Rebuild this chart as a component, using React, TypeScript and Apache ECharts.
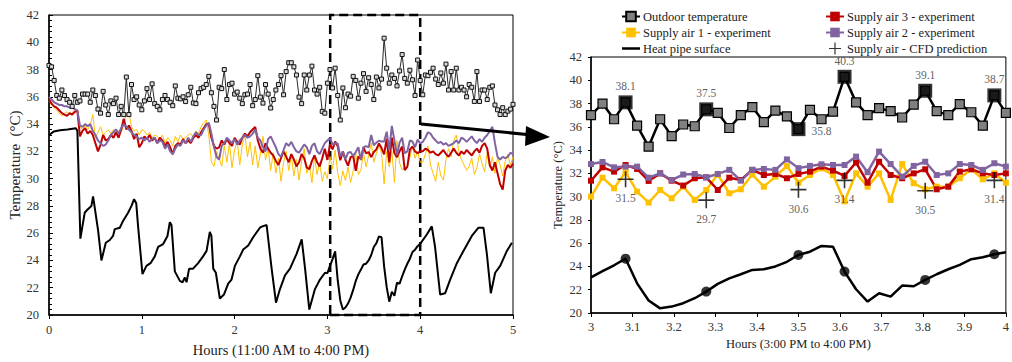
import React, { useEffect, useRef } from "react";
import * as echarts from "echarts";

const STEP = 1 / 36; // 100-second samples, in hours
const FONT = "'Liberation Serif', 'Times New Roman', serif";

// ---------- Outdoor temperature ----------
const outdoorEarly = [
  38.3, 38.2, 37.2, 36.1, 35.9, 36.5, 36.1, 35.8, 35.6, 35.3, 36.1, 35.6, 35.7, 36.2, 36.2, 36.2, 35.6, 36.5, 36.1, 35.1,
  34.8, 36.4, 35.4, 34.7, 35.7, 35.5, 35.9, 34.7, 35.3, 34.7, 37.45, 34.7, 36.9, 35.8, 36.0, 35.4, 35.05, 35.7, 36.6, 35.8,
  36.95, 35.5, 35.3, 35.05, 35.8, 36.1, 35.8, 35.6, 35.35, 36.8, 35.9, 35.85, 36.0, 35.65, 36.15, 36.7, 35.55, 35.5, 36.3, 36.6,
  36.7, 36.9, 37.5, 36.3, 35.3, 34.3, 36.7, 36.6, 38.0, 35.8, 36.9, 37.0, 36.2, 36.35, 35.9, 35.5, 36.15, 36.2, 36.9, 35.35,
  35.8, 37.55, 35.98, 35.54, 36.9, 36.2, 35.18, 35.8, 36.5, 36.9, 37.55, 36.15, 37.85, 38.5, 38.5, 38.2, 37.6, 35.98, 35.5, 37.6,
  36.5, 37.6, 38.25, 36.5, 36.2, 36.7, 34.93, 34.8,
];
const outdoorZoom = [
  37.0, 38.0, 36.65, 38.1, 36.1, 34.3, 36.65, 35.2, 36.2, 36.05, 37.5, 37.2, 35.9, 37.0, 37.7, 36.4, 37.4, 36.9, 35.8, 37.45,
  36.65, 37.3, 40.3, 38.1, 37.0, 37.6, 37.35, 36.8, 37.9, 39.1, 37.35, 37.0, 37.95, 37.25, 36.1, 38.7, 37.2,
];
const outdoorLate = [
  36.15, 37.6, 37.55, 37.8, 38.1, 37.3, 36.9, 37.75, 37.0, 38.4, 36.5, 37.85, 36.5, 38.1, 36.5, 36.7, 36.5, 36.0, 36.9, 36.7,
  35.66, 37.85, 35.66, 36.5, 36.5, 35.8, 36.7, 36.8, 35.4, 35.05, 34.7, 35.2, 34.7, 34.95, 35.1, 35.45,
];

// ---------- Supply air 1 (yellow) ----------
const sa1Early = [
  35.7, 35.4, 35.2, 35.0, 34.8, 34.6, 34.8, 34.9, 34.7, 34.8, 35.1, 35.0,
  33.8, 33.6, 33.9, 33.6, 33.9, 34.7, 33.0, 33.4, 33.8, 33.2, 33.4, 33.6, 33.3, 33.6, 33.2, 33.5, 33.4, 33.9, 34.7, 34.8, 33.8, 33.5, 33.6, 33.2,
  33.6, 33.5, 33.2, 33.4, 33.0, 33.2, 33.1, 32.9, 33.2, 32.6, 33.0, 32.8, 32.4, 33.1, 32.7, 33.2, 32.9, 33.0, 33.2, 33.3, 33.0, 33.5, 33.3,
  33.8, 34.1, 34.3, 33.2, 31.2, 30.9, 32.0, 31.5, 30.9, 32.4, 31.2, 32.6, 30.8, 32.1, 32.8, 31.0, 32.5, 33.2, 31.6, 32.7, 31.0, 32.4, 30.8,
  31.8, 33.1, 31.4, 32.2, 30.6, 31.9, 30.4, 31.5, 29.8, 31.2, 32.0, 30.6, 31.7, 30.2, 31.4, 29.9, 31.3, 32.2, 30.4, 31.0, 29.7, 31.6, 30.3,
  31.2, 29.8, 30.5,
];
const sa1Zoom = [
  30.0, 31.63, 30.72, 32.1, 30.43, 29.49, 30.57, 29.86, 30.86, 29.72, 30.57, 31.9, 30.29, 30.63, 31.9, 30.86, 31.72, 32.63, 31.2, 31.86,
  32.43, 31.86, 29.6, 32.0, 30.86, 32.0, 29.72, 32.8, 31.15, 30.63, 30.86, 30.86, 31.58, 32.35, 31.49, 32.0, 31.2,
];
const sa1Late = [
  31.2, 31.8, 32.4, 31.0, 30.4, 29.8, 31.2, 30.2, 29.9, 31.4, 32.2, 31.6, 32.8, 33.2, 32.0, 31.4, 31.0, 30.6, 30.9, 31.5,
  30.3, 30.8, 31.8, 31.1, 30.5, 31.9, 30.8, 31.6, 30.4, 31.5, 31.0, 30.2, 31.3, 31.8, 31.0, 31.6,
];

// ---------- Supply air 3 (red) ----------
const sa3Early = [
  35.8, 35.5, 35.3, 35.2, 35.0, 34.8, 34.7, 34.6, 34.8, 34.7, 34.9, 35.0,
  33.1, 33.5, 33.7, 33.3, 33.5, 33.2, 32.6, 32.0, 32.5, 33.2, 32.8, 32.9, 33.2, 33.0, 33.4, 33.0, 33.6, 34.4, 33.6, 33.9, 33.5, 32.9, 33.3, 32.3,
  32.6, 33.1, 32.9, 33.2, 32.8, 33.0, 32.6, 33.0, 32.8, 32.4, 32.7, 32.3, 31.8, 32.4, 32.6, 32.5, 32.9, 32.6, 32.8, 32.6, 33.0, 33.2, 33.0,
  33.4, 33.7, 34.0, 34.0, 33.0, 32.4, 32.2, 32.3, 32.8, 32.5, 32.9, 32.6, 32.4, 33.0, 32.7, 32.5, 33.0, 33.3, 33.1, 33.4, 33.6, 33.8, 32.8,
  32.2, 31.9, 32.6, 32.2, 31.9, 31.7, 31.3, 31.0, 31.5, 32.0, 31.6, 31.2, 31.8, 31.4, 30.9, 31.2, 31.8, 31.5, 30.8, 30.7, 31.3, 31.7, 31.2,
  30.9, 31.5, 32.2,
];
const sa3Zoom = [
  31.37, 32.52, 32.15, 32.72, 32.38, 31.35, 32.0, 31.37, 30.95, 31.58, 31.66, 30.57, 31.63, 31.43, 32.3, 31.86, 31.95, 31.58, 31.95, 32.15,
  32.58, 32.24, 31.78, 32.93, 31.2, 33.0, 31.86, 31.58, 32.0, 32.35, 30.63, 30.86, 32.15, 32.35, 32.0, 31.86, 32.0,
];
const sa3Late = [
  32.0, 32.2, 32.1, 31.9, 32.0, 31.8, 31.7, 31.9, 32.1, 31.8, 31.6, 31.9, 32.2, 31.9, 31.7, 32.0, 31.8, 32.1, 31.9, 31.7,
  32.0, 32.2, 31.9, 32.4, 32.6, 32.2, 31.0, 30.6, 31.2, 30.4, 29.6, 29.2, 30.6, 31.0, 30.8, 31.1,
];

// ---------- Supply air 2 (purple) ----------
const sa2Early = [
  36.0, 35.8, 35.6, 35.5, 35.4, 35.4, 35.3, 35.3, 35.2, 35.2, 35.1, 35.0,
  33.9, 33.8, 34.0, 33.85, 34.0, 33.5, 33.2, 32.8, 32.6, 32.4, 32.5, 32.8, 33.2, 33.4, 33.6, 33.3, 33.7, 34.0, 33.8, 33.6, 33.4, 33.2, 33.1, 32.9,
  33.0, 32.8, 33.0, 32.7, 32.9, 33.0, 32.6, 32.8, 32.7, 32.2, 32.5, 32.0, 31.8, 32.2, 32.5, 32.4, 32.8, 32.6, 33.0, 32.7, 33.1, 33.4, 33.2,
  33.2, 33.6, 33.9, 34.1, 33.3, 32.3, 31.6, 31.4, 32.4, 32.6, 33.0, 32.8, 32.6, 32.9, 32.5, 32.8, 33.0, 33.2, 33.0, 33.1, 33.3, 33.6, 33.0,
  32.8, 32.3, 32.0, 32.9, 33.1, 32.7, 32.3, 31.8, 31.6, 32.1, 32.6, 32.4, 32.7, 32.3, 32.0, 31.9, 32.2, 32.5, 32.3, 31.8, 32.4, 32.6, 32.0,
  31.8, 32.2, 32.6,
];
const sa2Zoom = [
  32.8, 32.98, 32.52, 32.58, 32.58, 31.63, 32.0, 31.43, 31.9, 31.95, 31.66, 31.95, 32.3, 31.37, 32.3, 32.38, 32.3, 33.2, 32.45, 32.64,
  32.78, 32.72, 32.72, 33.44, 32.1, 33.87, 32.8, 31.72, 32.64, 33.0, 31.86, 32.0, 32.8, 32.72, 32.3, 32.87, 32.58,
];
const sa2Late = [
  32.7, 33.0, 33.4, 33.3, 33.0, 32.8, 32.6, 32.7, 32.5, 32.6, 32.4, 32.5, 32.6, 32.8, 32.6, 33.0, 32.9, 32.7, 32.9, 33.1,
  32.8, 32.6, 32.9, 32.7, 33.0, 33.2, 33.5, 33.8, 32.6, 31.6, 31.4, 31.6, 31.5, 31.6, 31.9, 31.8,
];

// ---------- Heat pipe surface ----------
const hpEarlyTimes = [
  0, 0.05, 0.12, 0.2, 0.29, 0.306, 0.338, 0.36, 0.385, 0.41, 0.457, 0.475, 0.529, 0.565, 0.612, 0.655, 0.69, 0.709, 0.763, 0.798,
  0.852, 0.889, 0.917, 0.94, 0.96, 1.007, 1.05, 1.094, 1.14, 1.176, 1.23, 1.277, 1.302, 1.32, 1.356, 1.41, 1.439, 1.464, 1.482, 1.51,
  1.553, 1.607, 1.66, 1.698, 1.733, 1.75, 1.77, 1.798, 1.841, 1.885, 1.931, 1.967, 2.003, 2.057, 2.093, 2.147, 2.2, 2.273, 2.3, 2.345,
  2.399, 2.446, 2.489, 2.543, 2.597, 2.669, 2.723, 2.758, 2.805, 2.866, 2.92, 2.974,
];
const hpEarlyValues = [
  33.2, 33.45, 33.55, 33.6, 33.7, 33.5, 25.6, 26.5, 27.5, 27.7, 28.0, 28.7, 26.2, 24.0, 25.3, 25.5, 25.8, 26.3, 26.4, 26.9,
  27.5, 28.0, 28.5, 28.2, 26.5, 23.0, 23.6, 23.8, 24.3, 25.0, 25.2, 25.8, 26.8, 26.6, 23.2, 22.5, 22.4, 22.75, 22.4, 23.4,
  23.4, 23.8, 24.3, 24.7, 26.1, 25.8, 23.4, 23.1, 21.2, 21.5, 22.3, 22.6, 23.6, 24.3, 24.8, 25.1, 25.7, 26.4, 26.5, 26.6,
  23.4, 20.9, 21.9, 22.9, 23.4, 24.5, 25.55, 23.5, 20.4, 21.9, 22.6, 23.1,
];
const heatPipeZoom = [
  23.07, 23.6, 24.1, 24.67, 22.55, 21.07, 20.4, 20.55, 20.84, 21.27, 21.84, 22.5, 22.98, 23.33, 23.7, 23.76, 24.0, 24.4, 24.99, 25.27,
  25.76, 25.7, 23.56, 22.04, 20.98, 21.7, 21.41, 22.36, 22.3, 22.84, 23.33, 23.76, 24.13, 24.62, 24.79, 25.05, 25.22,
];
const hpLateTimes = [4.071, 4.125, 4.16, 4.215, 4.269, 4.323, 4.395, 4.466, 4.556, 4.628, 4.682, 4.718, 4.761, 4.808, 4.862, 4.934, 4.988];
const hpLateValues = [25.9, 26.5, 25.0, 21.5, 21.6, 22.6, 23.8, 24.7, 25.8, 26.4, 26.4, 24.5, 21.6, 23.1, 23.6, 24.7, 25.3];

// ---------- CFD predictions (sample indices within 3-4 h) ----------
const cfdIndex = [3, 10, 18, 22, 29, 35];
const cfdValues = [31.5, 29.7, 30.6, 31.4, 30.5, 31.4];

const leftTicks = [0, 1, 2, 3, 4, 5];

const toPairs = (vals: number[], start: number) =>
  vals.map((v, i) => [Number((start + i * STEP).toFixed(5)), v]);
const zip = (ts: number[], vs: number[]) => ts.map((t, i) => [t, vs[i]]);

const COL = {
  sa1: "#FFC000",
  sa3: "#C00000",
  sa2: "#8064A2",
};

export default function App() {
  const ref = useRef<HTMLDivElement>(null);

  useEffect(() => {
    if (!ref.current) return;
    const chart = echarts.init(ref.current, undefined, { renderer: "svg" });

    const outdoorAll = toPairs([...outdoorEarly, ...outdoorZoom, ...outdoorLate], 0);
    const sa1All = toPairs([...sa1Early, ...sa1Zoom, ...sa1Late], 0);
    const sa2All = toPairs([...sa2Early, ...sa2Zoom, ...sa2Late], 0);
    const sa3All = toPairs([...sa3Early, ...sa3Zoom, ...sa3Late], 0);
    const hpAll = [...zip(hpEarlyTimes, hpEarlyValues), ...toPairs(heatPipeZoom, 3), ...zip(hpLateTimes, hpLateValues)];

    const tAt = (i: number) => Number((3 + i * STEP).toFixed(5));
    const outdoorHigh = cfdIndex.map((i) => ({
      value: [tAt(i), outdoorZoom[i]],
      label: i === 18 ? { position: "right", distance: 6, offset: [0, 2] } : undefined,
    }));
    const hpHigh = cfdIndex.map((i) => [tAt(i), heatPipeZoom[i]]);
    const cfd = cfdIndex.map((i, k) => [tAt(i), cfdValues[k]]);

    const axisText = { fontFamily: FONT, fontSize: 12.5, color: "#333", fontWeight: "normal" };
    const axisLine = { show: true, onZero: false, lineStyle: { color: "#000", width: 1.5 } };
    const nameText = (size: number) => ({ fontFamily: FONT, fontSize: size, color: "#222", fontWeight: "normal" });

    const legendBase = {
      orient: "vertical",
      top: 5,
      itemWidth: 18,
      itemHeight: 12,
      itemGap: 3,
      textStyle: { fontFamily: FONT, fontSize: 12.5, color: "#222", fontWeight: "normal", padding: [0, 0, 0, -2] },
      selectedMode: false,
    };

    const option: any = {
      animation: false,
      textStyle: { fontFamily: FONT, fontWeight: "normal" },
      legend: [
        {
          ...legendBase, left: 616,
          data: [
            "Outdoor temperature",
            "Supply air 1 - experiment",
            { name: "Heat pipe surface", icon: "path://M0,0L18,0L18,2.5L0,2.5Z" },
          ],
        },
        { ...legendBase, left: 820, data: ["Supply air 3 - experiment", "Supply air 2 - experiment", "Supply air - CFD prediction"] },
      ],
      grid: [
        { left: 49, top: 15, width: 464, height: 301, show: true, borderColor: "#000", borderWidth: 1 },
        { left: 591, top: 57, width: 420, height: 256, show: true, borderColor: "#000", borderWidth: 1 },
      ],
      xAxis: [
        {
          type: "value", gridIndex: 0, min: leftTicks[0], max: leftTicks[leftTicks.length - 1], interval: 1,
          axisLine, axisTick: { show: true, length: 4, lineStyle: { color: "#000" } },
          axisLabel: { ...axisText, margin: 8 }, splitLine: { show: false },
          name: "Hours (11:00 AM to 4:00 PM)", nameLocation: "middle", nameGap: 27,
          nameTextStyle: nameText(14.5),
        },
        {
          type: "value", gridIndex: 1, min: 3, max: 4, interval: 0.1,
          axisLine, axisTick: { show: true, length: 4, lineStyle: { color: "#000" } },
          axisLabel: { ...axisText, margin: 7, formatter: (v: number) => String(Number(v.toFixed(1))) },
          splitLine: { show: false },
          name: "Hours (3:00 PM to 4:00 PM)", nameLocation: "middle", nameGap: 20,
          nameTextStyle: nameText(12.5),
        },
      ],
      yAxis: [
        {
          type: "value", gridIndex: 0, min: 20, max: 42, interval: 2,
          axisLine, axisTick: { show: true, inside: true, length: 4, lineStyle: { color: "#000" } },
          minorTick: { show: true, splitNumber: 5, length: 3, lineStyle: { color: "#000" } },
          axisLabel: { ...axisText, margin: 10 }, splitLine: { show: false },
          name: "Temperature  (°C)", nameLocation: "middle", nameGap: 25,
          nameTextStyle: nameText(15),
        },
        {
          type: "value", gridIndex: 1, min: 20, max: 42, interval: 2,
          axisLine, axisTick: { show: true, length: 3, lineStyle: { color: "#000" } },
          axisLabel: { ...axisText, margin: 9 }, splitLine: { show: false },
          name: "Temperature (°C)", nameLocation: "middle", nameGap: 27,
          nameTextStyle: nameText(12.5),
        },
      ],
      graphic: [
        { type: "line", shape: { x1: 421, y1: 124, x2: 532, y2: 135 }, style: { stroke: "#000", lineWidth: 3 }, z: 100 },
        { type: "polygon", shape: { points: [[550, 137], [526, 126], [525, 146]] }, style: { fill: "#000" }, z: 100 },
      ],
      series: [
        // ---- left chart ----
        {
          name: "L supply 1", type: "line", xAxisIndex: 0, yAxisIndex: 0, data: sa1All,
          showSymbol: false, lineStyle: { color: COL.sa1, width: 1 }, z: 2,
        },
        {
          name: "L supply 3", type: "line", xAxisIndex: 0, yAxisIndex: 0, data: sa3All,
          showSymbol: false, lineStyle: { color: COL.sa3, width: 2 }, z: 2,
        },
        {
          name: "L supply 2", type: "line", xAxisIndex: 0, yAxisIndex: 0, data: sa2All,
          showSymbol: false, lineStyle: { color: COL.sa2, width: 2 }, z: 2,
        },
        {
          name: "L heat pipe", type: "line", xAxisIndex: 0, yAxisIndex: 0, data: hpAll,
          showSymbol: false, lineStyle: { color: "#000", width: 2 }, z: 2,
        },
        {
          name: "L outdoor", type: "line", xAxisIndex: 0, yAxisIndex: 0, data: outdoorAll,
          symbol: "rect", symbolSize: 4, showSymbol: true, showAllSymbol: true,
          lineStyle: { color: "#2a2a2a", width: 1 },
          itemStyle: { color: "#d9d9d9", borderColor: "#111", borderWidth: 1 }, z: 3,
          markArea: {
            silent: true,
            itemStyle: { color: "rgba(0,0,0,0)", borderColor: "#000", borderWidth: 2.5, borderType: [9, 5] },
            data: [[{ xAxis: 3.03, yAxis: 20 }, { xAxis: 4, yAxis: 42 }]],
          },
        },
        // ---- right chart ----
        {
          name: "Supply air 1 - experiment", type: "line", xAxisIndex: 1, yAxisIndex: 1, data: toPairs(sa1Zoom, 3),
          symbol: "rect", symbolSize: 6, lineStyle: { color: COL.sa1, width: 2.5 }, itemStyle: { color: COL.sa1 }, z: 2,
        },
        {
          name: "Supply air 3 - experiment", type: "line", xAxisIndex: 1, yAxisIndex: 1, data: toPairs(sa3Zoom, 3),
          symbol: "rect", symbolSize: 6, lineStyle: { color: COL.sa3, width: 2.5 }, itemStyle: { color: COL.sa3 }, z: 2,
        },
        {
          name: "Supply air 2 - experiment", type: "line", xAxisIndex: 1, yAxisIndex: 1, data: toPairs(sa2Zoom, 3),
          symbol: "rect", symbolSize: 6, lineStyle: { color: COL.sa2, width: 2.5 }, itemStyle: { color: COL.sa2 }, z: 2,
        },
        {
          name: "Heat pipe surface", type: "line", xAxisIndex: 1, yAxisIndex: 1, data: toPairs(heatPipeZoom, 3),
          symbol: "none", lineStyle: { color: "#000", width: 2.5 }, itemStyle: { color: "#000" }, z: 3,
        },
        {
          name: "Outdoor temperature", type: "line", xAxisIndex: 1, yAxisIndex: 1, data: toPairs(outdoorZoom, 3),
          symbol: "rect", symbolSize: 9, lineStyle: { color: "#000", width: 2.5 },
          itemStyle: { color: "#808080", borderColor: "#000", borderWidth: 1.2 }, z: 3,
        },
        {
          name: "hp marks", type: "scatter", xAxisIndex: 1, yAxisIndex: 1, data: hpHigh,
          symbol: "circle", symbolSize: 10, itemStyle: { color: "#000" }, z: 4,
        },
        {
          name: "outdoor marks", type: "scatter", xAxisIndex: 1, yAxisIndex: 1, data: outdoorHigh,
          symbol: "rect", symbolSize: 14, itemStyle: { color: "#000" }, z: 4,
          label: {
            show: true, position: "top", distance: 3, fontFamily: FONT, fontSize: 11.5, color: "#333",
            formatter: (p: any) => p.value[1].toFixed(1),
          },
        },
        {
          name: "Supply air - CFD prediction", type: "scatter", xAxisIndex: 1, yAxisIndex: 1, data: cfd,
          symbol: "path://M-1,-10L1,-10L1,-1L10,-1L10,1L1,1L1,10L-1,10L-1,1L-10,1L-10,-1L-1,-1Z",
          symbolSize: 16, symbolKeepAspect: true, itemStyle: { color: "#000" }, z: 5,
          label: {
            show: true, position: "bottom", distance: 5, fontFamily: FONT, fontSize: 11.5, color: "#333",
            formatter: (p: any) => p.value[1].toFixed(1),
          },
        },
      ],
    };

    chart.setOption(option);
    return () => chart.dispose();
  }, []);

  return (
    <div
      ref={ref}
      style={{ position: "absolute", left: 0, top: 0, width: 1012, height: 362, background: "#fff" }}
    />
  );
}
